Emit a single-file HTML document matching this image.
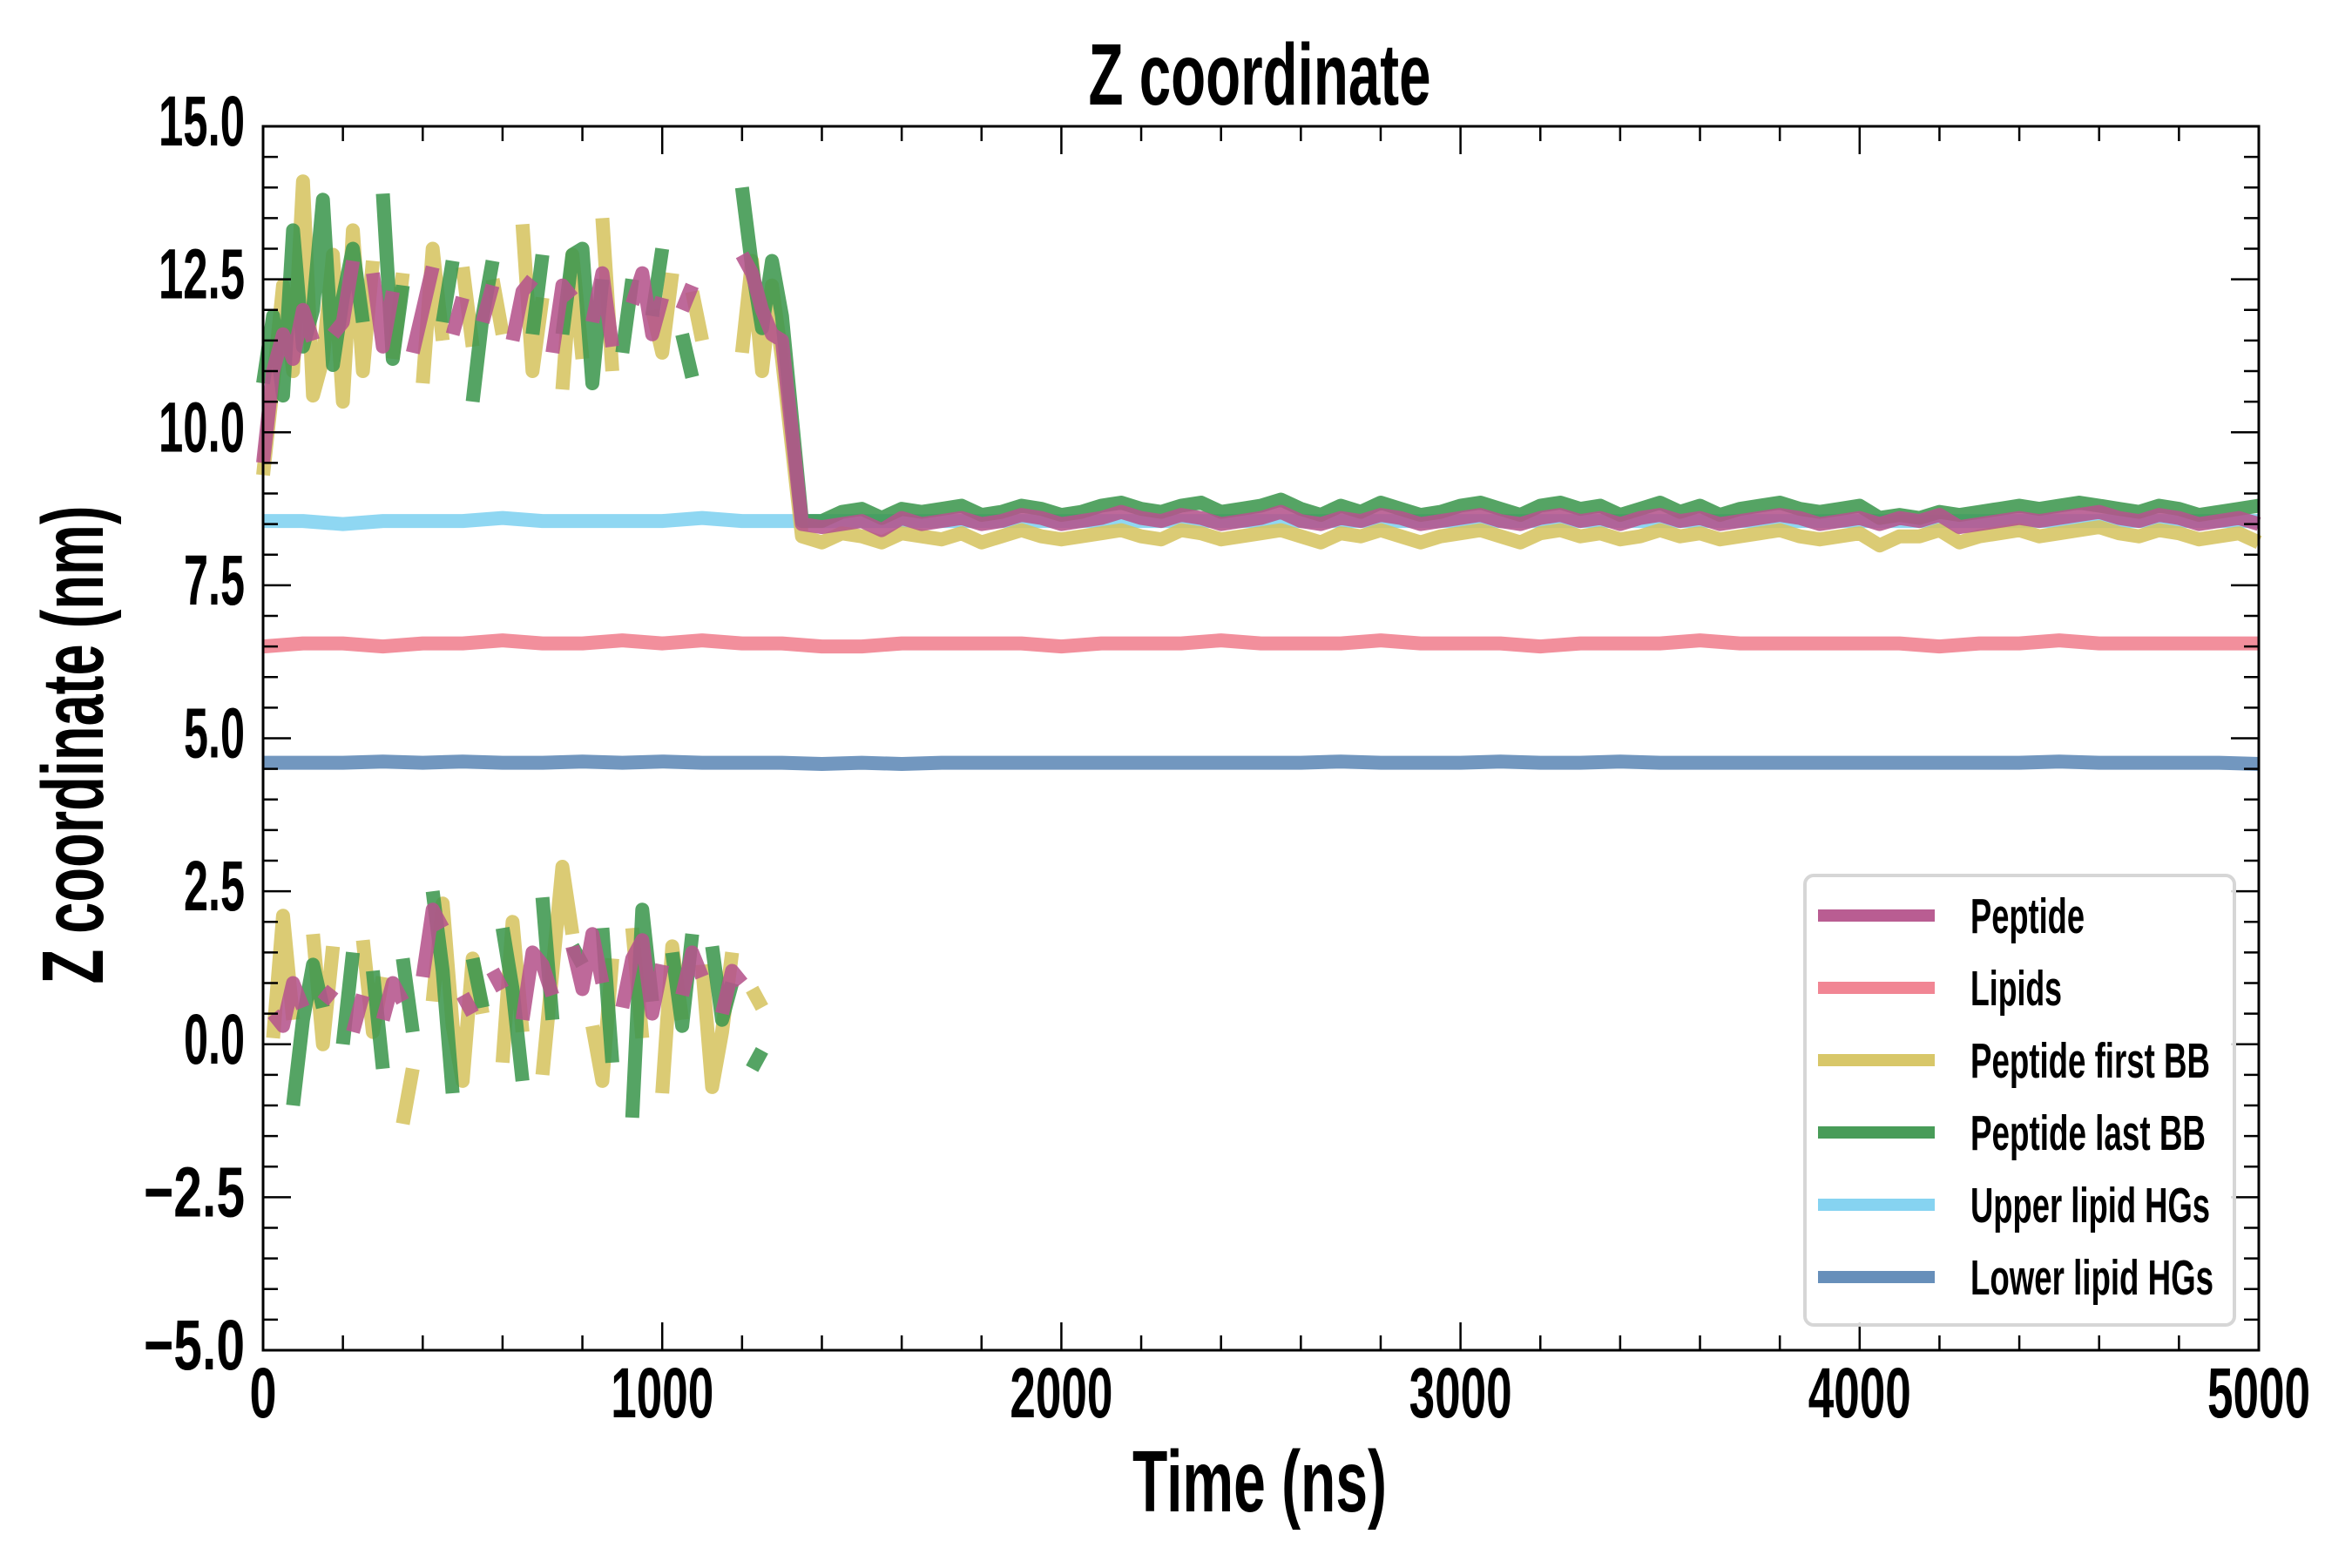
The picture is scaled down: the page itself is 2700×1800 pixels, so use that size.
<!DOCTYPE html>
<html><head><meta charset="utf-8"><style>
html,body{margin:0;padding:0;background:#fff;}
svg{display:block;}
text{font-family:"Liberation Sans Narrow","Liberation Sans",sans-serif;font-weight:bold;fill:#000;}
</style></head><body>
<svg id="chart" xmlns="http://www.w3.org/2000/svg" width="2700" height="1800" viewBox="0 0 2700 1800">
<rect width="2700" height="1800" fill="#fff"/>
<g id="series"></g>
<g id="axes"></g>
<g id="legend"></g>
<text x="1446" y="120" text-anchor="middle" font-size="100" textLength="393" lengthAdjust="spacingAndGlyphs">Z coordinate</text>
<text x="1446" y="1735" text-anchor="middle" font-size="100" textLength="292" lengthAdjust="spacingAndGlyphs">Time (ns)</text>
<text x="0" y="0" transform="translate(118,855) rotate(-90)" text-anchor="middle" font-size="100" textLength="549" lengthAdjust="spacingAndGlyphs">Z coordinate (nm)</text>
</svg>
<script>
const tEarly=[0,25,50,75,100,125,150,175,200,225,
250,275,300,325,350,375,400,425,450,475,
500,525,550,575,600,625,650,675,700,725,
750,775,800,825,850,875,900,925,950,975,
1000,1025,1050,1075,1100,1125,1150,1175,1200,1225,
1250,1275,1300];
const tLate=[1350,1400,1450,1500,1550,1600,1650,1700,1750,1800,
1850,1900,1950,2000,2050,2100,2150,2200,2250,2300,
2350,2400,2450,2500,2550,2600,2650,2700,2750,2800,
2850,2900,2950,3000,3050,3100,3150,3200,3250,3300,
3350,3400,3450,3500,3550,3600,3650,3700,3750,3800,
3850,3900,3950,4000,4050,4100,4150,4200,4250,4300,
4350,4400,4450,4500,4550,4600,4650,4700,4750,4800,
4850,4900,4950,5000];
const tFlat=[0,100,200,300,400,500,600,700,800,900,1000,1100,1200,1300,1400,1500,1600,1700,1800,1900,2000,2100,2200,2300,2400,2500,2600,2700,2800,2900,3000,3100,3200,3300,3400,3500,3600,3700,3800,3900,4000,4100,4200,4300,4400,4500,4600,4700,4800,4900,5000];

const pepHiEarly=[9.5,11.0,11.6,11.2,12.0,11.5,null,11.6,11.8,12.8,
null,12.6,11.4,12.3,null,11.3,12.0,12.7,null,11.6,
12.2,null,11.8,12.4,null,11.5,12.3,12.5,null,11.3,
12.4,12.2,null,11.8,12.6,11.4,null,12.1,12.6,11.6,
12.2,null,12.0,12.4,null,12.4,null,null,12.9,12.6,
12.0,11.6,11.5];
const pepLoEarly=[null,0.5,0.3,1.0,0.6,null,0.7,0.9,null,0.2,
0.8,null,0.4,1.0,0.7,null,1.1,2.2,1.9,null,
0.8,0.5,null,1.2,0.9,null,0.4,1.5,1.3,0.8,
null,1.6,0.9,1.8,1.0,null,0.6,1.4,1.7,0.5,
1.3,null,0.8,1.5,1.1,null,0.5,1.2,1.0,null,
null,null,null];
const firstHiEarly=[9.3,10.8,12.4,11.0,14.1,10.6,11.2,12.9,10.5,13.3,
11.0,12.8,null,11.2,12.6,null,10.8,13.0,11.5,null,
12.7,11.4,null,12.5,11.6,null,13.4,11.0,12.2,null,
10.7,12.9,11.2,null,13.5,11.0,null,14.5,null,12.0,
11.3,12.6,null,12.3,11.5,null,null,null,11.3,12.8,
11.0,12.4,11.2];
const firstLoEarly=[null,0.1,2.1,0.4,null,1.8,0.0,1.6,null,null,
1.7,0.2,1.1,null,-1.3,-0.4,null,0.7,2.3,0.3,
-0.6,1.4,0.5,null,-0.3,2.0,0.2,null,-0.5,1.2,
2.9,1.8,null,0.3,-0.6,1.4,null,1.9,0.1,null,
-0.8,1.6,0.4,null,1.3,-0.7,0.2,1.5,null,0.9,
0.6,null,null];
const lastHiEarly=[10.8,11.9,10.6,13.3,11.4,12.0,13.8,11.1,12.2,13.0,
11.8,null,13.9,11.2,12.4,null,13.2,null,11.8,12.8,
null,10.5,11.9,12.8,null,13.9,null,11.6,12.9,null,
11.6,12.9,13.0,10.8,12.5,null,11.3,12.5,null,11.9,
13.0,null,11.6,10.9,null,null,null,null,14.0,12.7,
11.7,12.8,11.9];
const lastLoEarly=[null,0.9,null,-1.0,0.4,1.3,0.6,null,0.0,1.5,
null,1.2,-0.4,null,1.4,0.2,null,2.5,1.2,-0.8,
null,1.4,0.6,null,1.9,0.9,-0.6,null,2.4,0.4,
null,1.6,1.3,null,1.9,-0.3,null,-1.2,2.2,0.7,
null,1.5,0.3,1.8,null,1.6,0.4,1.0,null,-0.4,
-0.1,null,-0.3];

const pepLate=[8.5,8.45,8.5,8.55,8.4,8.6,8.5,8.55,8.6,8.5,
8.55,8.65,8.6,8.5,8.55,8.6,8.7,8.6,8.55,8.65,
8.6,8.5,8.55,8.6,8.7,8.55,8.5,8.6,8.55,8.65,
8.6,8.5,8.55,8.6,8.65,8.55,8.5,8.6,8.65,8.55,
8.6,8.5,8.6,8.65,8.55,8.6,8.5,8.55,8.6,8.65,
8.6,8.5,8.55,8.6,8.5,8.6,8.55,8.65,8.45,8.5,
8.55,8.6,8.55,8.6,8.65,8.7,8.6,8.55,8.65,8.6,
8.5,8.55,8.6,8.5];
const firstLate=[8.3,8.2,8.35,8.3,8.2,8.35,8.3,8.25,8.35,8.2,
8.3,8.4,8.3,8.25,8.3,8.35,8.4,8.3,8.25,8.4,
8.35,8.25,8.3,8.35,8.4,8.3,8.2,8.35,8.3,8.4,
8.3,8.2,8.3,8.35,8.4,8.3,8.2,8.35,8.4,8.3,
8.35,8.25,8.3,8.4,8.3,8.35,8.25,8.3,8.35,8.4,
8.3,8.25,8.3,8.35,8.15,8.3,8.3,8.4,8.2,8.3,
8.35,8.4,8.3,8.35,8.4,8.45,8.35,8.3,8.4,8.35,
8.25,8.3,8.35,8.2];
const lastLate=[8.55,8.55,8.7,8.75,8.6,8.75,8.7,8.75,8.8,8.65,
8.7,8.8,8.75,8.65,8.7,8.8,8.85,8.75,8.7,8.8,
8.85,8.7,8.75,8.8,8.9,8.75,8.65,8.8,8.7,8.85,
8.75,8.65,8.7,8.8,8.85,8.75,8.65,8.8,8.85,8.75,
8.8,8.65,8.75,8.85,8.7,8.8,8.65,8.75,8.8,8.85,
8.75,8.7,8.75,8.8,8.6,8.65,8.6,8.7,8.65,8.7,
8.75,8.8,8.75,8.8,8.85,8.8,8.75,8.7,8.8,8.75,
8.65,8.7,8.75,8.8];

const lipids=[6.5,6.55,6.55,6.5,6.55,6.55,6.6,6.55,6.55,6.6,6.55,6.6,6.55,6.55,6.5,6.5,6.55,6.55,6.55,6.55,6.5,6.55,6.55,6.55,6.6,6.55,6.55,6.55,6.6,6.55,6.55,6.55,6.5,6.55,6.55,6.55,6.6,6.55,6.55,6.55,6.55,6.55,6.5,6.55,6.55,6.6,6.55,6.55,6.55,6.55,6.55];
const upperHG=[8.55,8.55,8.5,8.55,8.55,8.55,8.6,8.55,8.55,8.55,8.55,8.6,8.55,8.55,8.55,8.55,8.55,8.55,8.55,8.55,8.55,8.55,8.55,8.55,8.55,8.55,8.55,8.55,8.55,8.55,8.55,8.55,8.55,8.55,8.55,8.55,8.55,8.55,8.55,8.55,8.55,8.55,8.55,8.55,8.55,8.55,8.55,8.55,8.55,8.55,8.55];
const lowerHG=[4.6,4.6,4.6,4.62,4.6,4.62,4.6,4.6,4.62,4.6,4.62,4.6,4.6,4.6,4.58,4.6,4.58,4.6,4.6,4.6,4.6,4.6,4.6,4.6,4.6,4.6,4.6,4.62,4.6,4.6,4.6,4.62,4.6,4.6,4.62,4.6,4.6,4.6,4.6,4.6,4.6,4.6,4.6,4.6,4.6,4.62,4.6,4.6,4.6,4.6,4.58];

const xTicks=[0,1000,2000,3000,4000,5000];
const xTickLabels=["0","1000","2000","3000","4000","5000"];
const yTicks=[-5,-2.5,0,2.5,5,7.5,10,12.5,15];
const yTickLabels=["\u22125.0","\u22122.5","0.0","2.5","5.0","7.5","10.0","12.5","15.0"];
const legendLabels=["Peptide","Lipids","Peptide first BB","Peptide last BB","Upper lipid HGs","Lower lipid HGs"];
const legendColors=["#b5548c","#f0808e","#d6c461","#3e974f","#7fd1f0","#5f89b6"];

const L=302,R=2593,T=145,B=1550;
const xs=v=>L+(v/5000)*(R-L);
const ys=v=>B-((v+5)/20)*(B-T);
const NS="http://www.w3.org/2000/svg";
function mk(tag,attrs,parent){const e=document.createElementNS(NS,tag);for(const k in attrs)e.setAttribute(k,attrs[k]);parent.appendChild(e);return e;}

const sg=document.getElementById('series');
function drawSeries(times,vals,color,name){
  let d="",pen=false;
  for(let i=0;i<times.length;i++){
    const v=vals[i];
    if(v===null||v===undefined){pen=false;continue;}
    d+=(pen?"L":"M")+xs(times[i]).toFixed(1)+" "+ys(v).toFixed(1)+" ";
    pen=true;
  }
  const p=mk('path',{d:d,fill:'none',stroke:color,'stroke-width':16,'stroke-linejoin':'round','stroke-opacity':0.88},sg);
  
  
}
const tAll=tEarly.concat(tLate);
drawSeries(tFlat,upperHG,legendColors[4],'upper-lipid-hgs-line');
drawSeries(tFlat,lowerHG,legendColors[5],'lower-lipid-hgs-line');
drawSeries(tFlat,lipids,legendColors[1],'lipids-line');
drawSeries(tAll,firstHiEarly.concat(firstLate),legendColors[2],'peptide-first-bb-line');
drawSeries(tEarly,firstLoEarly,legendColors[2],'peptide-first-bb-lower-line');
drawSeries(tAll,lastHiEarly.concat(lastLate),legendColors[3],'peptide-last-bb-line');
drawSeries(tEarly,lastLoEarly,legendColors[3],'peptide-last-bb-lower-line');
drawSeries(tAll,pepHiEarly.concat(pepLate),legendColors[0],'peptide-line');
drawSeries(tEarly,pepLoEarly,legendColors[0],'peptide-lower-line');

const ag=document.getElementById('axes');
const frame=mk('rect',{x:L,y:T,width:R-L,height:B-T,fill:'none',stroke:'#000','stroke-width':3},ag);


for(let v=0;v<=5000;v+=200){
  if(v%1000===0)continue;
  const x=xs(v);
  const t1=mk('line',{x1:x,y1:B,x2:x,y2:B-17,stroke:'#000','stroke-width':2.5},ag);
  
  
  const t2=mk('line',{x1:x,y1:T,x2:x,y2:T+17,stroke:'#000','stroke-width':2.5},ag);
  
  
}
for(let k=0;k<=40;k++){
  const v=-5+k*0.5;
  if(Math.abs(v/2.5-Math.round(v/2.5))<1e-6)continue;
  const y=ys(v);
  const t1=mk('line',{x1:L,y1:y,x2:L+17,y2:y,stroke:'#000','stroke-width':2.5},ag);
  
  
  const t2=mk('line',{x1:R,y1:y,x2:R-17,y2:y,stroke:'#000','stroke-width':2.5},ag);
  
  
}
const cw={"0":29,"1":29,"2":29,"3":29,"4":29,"5":29,"6":29,"7":29,"8":29,"9":29,".":12,"\u2212":46};
function tl(s){let w=0;for(const c of s)w+=cw[c]||29;return w;}
xTicks.forEach((v,i)=>{
  const x=xs(v);
  const t1=mk('line',{x1:x,y1:B,x2:x,y2:B-32,stroke:'#000','stroke-width':2.5},ag);
  
  
  const t2=mk('line',{x1:x,y1:T,x2:x,y2:T+32,stroke:'#000','stroke-width':2.5},ag);
  
  
  const s=xTickLabels[i];
  const tx=mk('text',{x:x,y:1627,'text-anchor':'middle','font-size':82,textLength:tl(s)+2,lengthAdjust:'spacingAndGlyphs'},ag);
  tx.textContent=s;
  
  
});
yTicks.forEach((v,i)=>{
  const y=ys(v);
  const t1=mk('line',{x1:L,y1:y,x2:L+32,y2:y,stroke:'#000','stroke-width':2.5},ag);
  
  
  const t2=mk('line',{x1:R,y1:y,x2:R-32,y2:y,stroke:'#000','stroke-width':2.5},ag);
  
  
  const s=yTickLabels[i];
  const tx=mk('text',{x:281,y:y+22,'text-anchor':'end','font-size':82,textLength:tl(s),lengthAdjust:'spacingAndGlyphs'},ag);
  tx.textContent=s;
  
  
});

const lg=document.getElementById('legend');
const box=mk('rect',{x:2072,y:1005,width:493,height:516,rx:10,fill:'#fff','fill-opacity':0.85,stroke:'#d6d6d6','stroke-width':4},lg);


const legW=[131,105,275,270,275,279];
legendLabels.forEach((s,i)=>{
  const y=1051+i*83;
  const ln=mk('line',{x1:2087,y1:y,x2:2221,y2:y,stroke:legendColors[i],'stroke-width':14,'stroke-opacity':0.95},lg);
  
  
  const tx=mk('text',{x:2262,y:y+20,'font-size':57,textLength:legW[i],lengthAdjust:'spacingAndGlyphs'},lg);
  tx.textContent=s;
  
  
});
</script>
</body></html>
